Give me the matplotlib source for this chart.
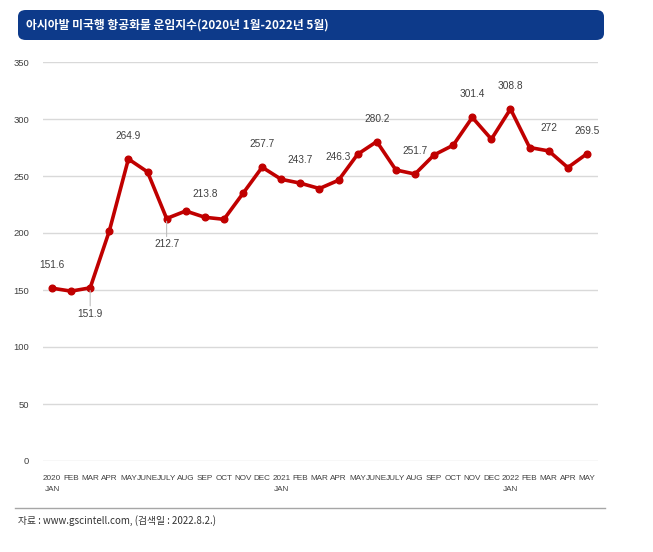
import matplotlib.pyplot as plt
from matplotlib.patches import FancyBboxPatch
from matplotlib.lines import Line2D

# data
months = ['2020\nJAN', 'FEB', 'MAR', 'APR', 'MAY', 'JUNE', 'JULY', 'AUG', 'SEP', 'OCT', 'NOV', 'DEC',
          '2021\nJAN', 'FEB', 'MAR', 'APR', 'MAY', 'JUNE', 'JULY', 'AUG', 'SEP', 'OCT', 'NOV', 'DEC',
          '2022\nJAN', 'FEB', 'MAR', 'APR', 'MAY']
values = [151.6, 149.0, 151.9, 201.7, 264.9, 253.6, 212.7, 219.3, 213.8, 212.0, 234.8, 257.7,
          247.1, 243.7, 239.0, 246.3, 269.1, 280.2, 255.3, 251.7, 268.5, 277.0, 301.4, 282.3,
          308.8, 275.0, 272.0, 257.4, 269.5]
# index -> label position ('a' above, 'b' below with leader)
labelled = {0: 'a', 2: 'b', 4: 'a', 6: 'b', 8: 'a', 11: 'a', 13: 'a', 15: 'a', 17: 'a',
            19: 'a', 22: 'a', 24: 'a', 26: 'a', 28: 'a'}
yticks = [0, 50, 100, 150, 200, 250, 300, 350]

TITLE = '아시아발 미국행 항공화물 운임지수(2020년 1월-2022년 5월)'
SOURCE = '자료 : www.gscintell.com, (검색일 : 2022.8.2.)'

narrow = ['Liberation Sans', 'DejaVu Sans']
kor = ['Noto Sans CJK KR', 'DejaVu Sans']

W, H = 653, 552
fig = plt.figure(figsize=(W / 100, H / 100), dpi=100)
fig.patch.set_facecolor('white')

ax = fig.add_axes([43 / W, (H - 461) / H, (598 - 43) / W, (461 - 62) / H])
x = list(range(len(values)))
ax.plot(x, values, color='#c00000', lw=2.6, marker='o', ms=4.8, zorder=3)
ax.set_xlim(-0.47, 28.58)
ax.set_ylim(0, 350)
ax.set_yticks(yticks)
ax.set_yticklabels([str(v) for v in yticks], family=narrow, fontsize=6.8, color='#404040')
ax.set_xticks(x)
ax.set_xticklabels(months, family=narrow, fontsize=5.9, color='#404040',
                   va='top', linespacing=1.9)
ax.tick_params(length=0, pad=10)
ax.tick_params(axis='x', pad=10)
ax.grid(axis='y', color='#d9d9d9', lw=1)
ax.set_axisbelow(True)
for s in ax.spines.values():
    s.set_visible(False)

for i, pos in labelled.items():
    v = values[i]
    txt = f'{v:g}'
    if pos == 'a':
        ax.annotate(txt, (i, v), xytext=(0, 13), textcoords='offset points',
                    ha='center', va='bottom', family=narrow, fontsize=7.3, color='#404040')
    else:
        ax.annotate(txt, (i, v), xytext=(0, -15), textcoords='offset points',
                    ha='center', va='top', family=narrow, fontsize=7.3, color='#404040',
                    arrowprops=dict(arrowstyle='-', color='#bfbfbf', lw=0.8, shrinkA=0, shrinkB=2))

# title bar
bar = FancyBboxPatch((18 / W, (H - 40) / H), (604 - 18) / W, 30 / H,
                     boxstyle='round,pad=0,rounding_size=0.012',
                     transform=fig.transFigure, facecolor='#0d3a8a', edgecolor='none')
fig.patches.append(bar)
fig.text(26 / W, (H - 25) / H, TITLE, family=kor, fontsize=8.5, color='white',
         va='center', ha='left', weight='bold')

# bottom rule and source
fig.add_artist(Line2D([15 / W, 605 / W], [(H - 508) / H] * 2, color='#a6a6a6', lw=1,
                      transform=fig.transFigure))
fig.text(18 / W, (H - 521) / H, SOURCE, family=kor, fontsize=7, color='#333333',
         va='center', ha='left')

fig.savefig('out.png', dpi=100)
